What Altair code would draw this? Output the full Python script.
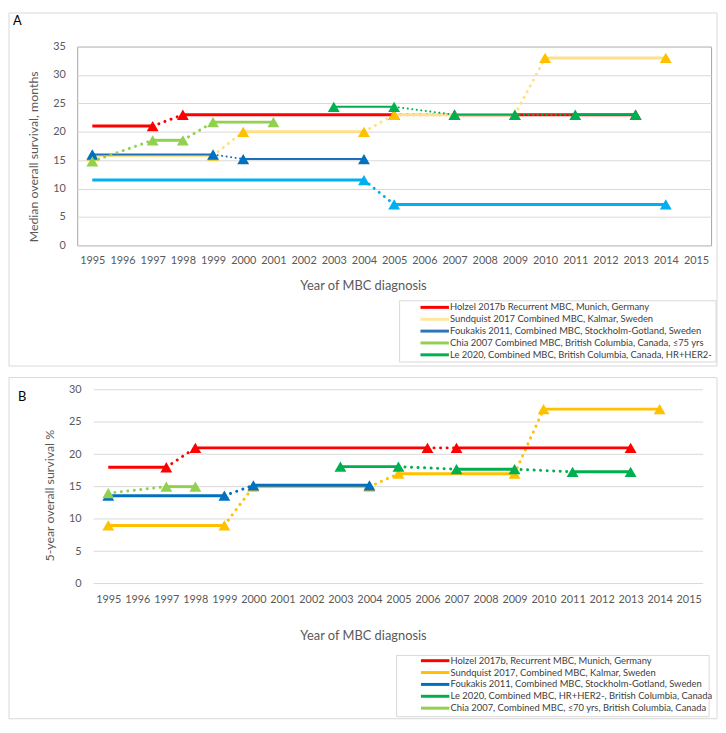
import altair as alt
import pandas as pd

FONT = "Lato"
YEARS = list(range(1995, 2016))

# ---------------- Panel A : median overall survival (months) ----------------
A_LABELS = [
    "Holzel 2017b Recurrent MBC, Munich, Germany",
    "Sundquist 2017 Combined MBC, Kalmar, Sweden",
    "Foukakis 2011, Combined MBC, Stockholm-Gotland, Sweden",
    "Chia 2007 Combined MBC, British Columbia, Canada,  \u226475 yrs",
    "Le 2020, Combined MBC, British Columbia, Canada, HR+HER2-",
]
A_COLORS = ["#FF0000", "#FFE699", "#2E75B6", "#92D050", "#00B050"]

A_HOLZEL_YEARS = [1995, 1997, 1998, 2005, 2007, 2013]
A_HOLZEL_VALUES = [21, 21, 23, 23, 23, 23]
A_HOLZEL_LINKS = ["solid", "dot", "solid", "dot", "solid"]
A_HOLZEL_MARKERS = [0, 1, 1, 1, 1, 1]

A_SUNDQ_YEARS = [1995, 1999, 2000, 2004, 2005, 2009, 2010, 2014]
A_SUNDQ_VALUES = [15.8, 15.8, 20, 20, 23, 23, 33, 33]
A_SUNDQ_LINKS = ["solid", "dot", "solid", "dot", "solid", "dot", "solid"]
A_SUNDQ_MARKERS = [1, 1, 1, 1, 1, 1, 1, 1]

A_FOUK_YEARS = [1995, 1999, 2000, 2004]
A_FOUK_VALUES = [16, 16, 15.2, 15.2]
A_FOUK_LINKS = ["solid", "dot", "solid"]
A_FOUK_MARKERS = [1, 1, 1, 1]

A_FOUK2_YEARS = [1995, 2004, 2005, 2014]
A_FOUK2_VALUES = [11.5, 11.5, 7.2, 7.2]
A_FOUK2_LINKS = ["solid", "dot", "solid"]
A_FOUK2_MARKERS = [0, 1, 1, 1]

A_CHIA_YEARS = [1995, 1997, 1998, 1999, 2001]
A_CHIA_VALUES = [14.8, 18.5, 18.5, 21.7, 21.7]
A_CHIA_LINKS = ["dot", "solid", "dot", "solid"]
A_CHIA_MARKERS = [1, 1, 1, 1, 1]

A_LE_YEARS = [2003, 2005, 2007, 2009, 2011, 2013]
A_LE_VALUES = [24.4, 24.4, 23, 23, 23, 23]
A_LE_LINKS = ["solid", "dot", "solid", "dot", "solid"]
A_LE_MARKERS = [1, 1, 1, 1, 1, 1]

# ---------------- Panel B : 5-year overall survival % ----------------
B_LABELS = [
    "Holzel 2017b, Recurrent MBC, Munich, Germany",
    "Sundquist 2017, Combined MBC,  Kalmar, Sweden",
    "Foukakis 2011, Combined MBC, Stockholm-Gotland, Sweden",
    "Le 2020, Combined MBC, HR+HER2-, British Columbia, Canada",
    "Chia 2007, Combined MBC, \u226470 yrs, British Columbia, Canada",
]
B_COLORS = ["#FF0000", "#FFC000", "#0070C0", "#00B050", "#92D050"]

B_HOLZEL_YEARS = [1995, 1997, 1998, 2006, 2007, 2013]
B_HOLZEL_VALUES = [18, 18, 21, 21, 21, 21]
B_HOLZEL_LINKS = ["solid", "dot", "solid", "dot", "solid"]
B_HOLZEL_MARKERS = [0, 1, 1, 1, 1, 1]

B_SUNDQ_YEARS = [1995, 1999, 2000, 2004, 2005, 2009, 2010, 2014]
B_SUNDQ_VALUES = [9, 9, 15, 15, 17, 17, 27, 27]
B_SUNDQ_LINKS = ["solid", "dot", "solid", "dot", "solid", "dot", "solid"]
B_SUNDQ_MARKERS = [1, 1, 1, 1, 1, 1, 1, 1]

B_FOUK_YEARS = [1995, 1999, 2000, 2004]
B_FOUK_VALUES = [13.6, 13.6, 15.2, 15.2]
B_FOUK_LINKS = ["solid", "dot", "solid"]
B_FOUK_MARKERS = [1, 1, 1, 1]

B_LE_YEARS = [2003, 2005, 2007, 2009, 2011, 2013]
B_LE_VALUES = [18.1, 18.1, 17.7, 17.7, 17.3, 17.3]
B_LE_LINKS = ["solid", "dot", "solid", "dot", "solid"]
B_LE_MARKERS = [1, 1, 1, 1, 1, 1]

B_CHIA_YEARS = [1995, 1997, 1998]
B_CHIA_VALUES = [14, 15, 15]
B_CHIA_LINKS = ["dot", "solid"]
B_CHIA_MARKERS = [1, 1, 1]

GRID_B = [0, 5, 10, 15, 20, 25, 30]
GRID_B_FROM = 1994.5
GRID_B_TO = 2015.5

TEXT = "#595959"
ONE = alt.Data(values=[{"k": 0}])


def series_layers(label, years, values, links, markers, line_color, marker_color,
                  width, xenc, yenc, color_enc=None):
    segs = []
    for i, link in enumerate(links):
        for j in (i, i + 1):
            segs.append({"study": label, "seg": i, "link": link,
                         "year": years[j], "value": values[j]})
    df = pd.DataFrame(segs)
    pts = pd.DataFrame({"year": [y for y, m in zip(years, markers) if m],
                        "value": [v for v, m in zip(values, markers) if m]})
    layers = []
    solid = df[df["link"] == "solid"]
    if len(solid):
        enc = dict(x=xenc, y=yenc, detail="seg:N")
        enc["color"] = color_enc if color_enc is not None else alt.value(line_color)
        layers.append(alt.Chart(solid).mark_line(strokeWidth=width).encode(**enc))
    dot = df[df["link"] == "dot"]
    if len(dot):
        gap = 6.5 if width >= 2.5 else 4.5
        layers.append(
            alt.Chart(dot).mark_line(strokeWidth=width, strokeDash=[0.1, gap],
                                     strokeCap="round")
            .encode(x=xenc, y=yenc, detail="seg:N", color=alt.value(line_color)))
    layers.append(
        alt.Chart(pts).mark_point(shape="triangle-up", filled=True, size=144,
                                  opacity=1)
        .encode(x=xenc, y=yenc, color=alt.value(marker_color)))
    return layers


def rect(x, x2, y, y2, stroke):
    return alt.Chart(ONE).mark_rect(fill="white", fillOpacity=0, stroke=stroke,
                                    strokeWidth=1).encode(
        x=alt.value(x), x2=alt.value(x2), y=alt.value(y), y2=alt.value(y2))


def letter(t, x, y):
    return alt.Chart(ONE).mark_text(text=t, font=FONT, fontSize=13, color="black",
                                    align="left", baseline="middle").encode(
        x=alt.value(x), y=alt.value(y))


def legend(x, y):
    return alt.Legend(title=None, orient="none", legendX=x, legendY=y,
                      symbolType="M-3.6,0H3.6", symbolSize=64, symbolStrokeWidth=3,
                      labelFont=FONT, labelFontSize=9.5, labelColor="#404040",
                      labelOffset=10, rowPadding=-1, padding=0, labelLimit=500)


def x_axis(label_pad, title_y):
    return alt.Axis(values=YEARS, format="d", grid=False, ticks=False, domain=False,
                    labelPadding=label_pad, labelFont=FONT, labelFontSize=11,
                    labelColor=TEXT, labelFlush=False, labelOverlap=False,
                    title="Year of MBC diagnosis", titleFont=FONT,
                    titleFontSize=13, titleFontWeight="normal", titleColor=TEXT,
                    titleX=289, titleY=title_y, titleAlign="center",
                    titleBaseline="middle")


# ---------------- Panel A chart ----------------
xA = alt.X("year:Q",
           scale=alt.Scale(domain=[1994.5, 2015.5], nice=False, zero=False),
           axis=x_axis(9, 41))
yA = alt.Y("value:Q", scale=alt.Scale(domain=[0, 35], nice=False),
           axis=alt.Axis(values=[0, 5, 10, 15, 20, 25, 30, 35], grid=True,
                         gridColor="#d9d9d9", ticks=False, domain=False,
                         labelPadding=12, labelFont=FONT, labelFontSize=11,
                         labelColor=TEXT,
                         title="Median overall survival, months", titleFont=FONT,
                         titleFontSize=12.5, titleFontWeight="normal",
                         titleColor=TEXT, titleX=-44, titleY=111,
                         titleAlign="center", titleBaseline="middle"))
colorA = alt.Color("study:N", scale=alt.Scale(domain=A_LABELS, range=A_COLORS),
                   legend=legend(356, 258.2))

layersA = [rect(-69, 647, -34, 323, "#d9d9d9"), rect(326, 646, 257, 319, "#d9d9d9"),
           letter("A", -65, -26)]
layersA += series_layers("", A_FOUK2_YEARS, A_FOUK2_VALUES, A_FOUK2_LINKS,
                         A_FOUK2_MARKERS, "#00B0F0", "#00B0F0", 3, xA, yA)
layersA += series_layers(A_LABELS[0], A_HOLZEL_YEARS, A_HOLZEL_VALUES, A_HOLZEL_LINKS,
                         A_HOLZEL_MARKERS, "#FF0000", "#FF0000", 3, xA, yA, colorA)
layersA += series_layers(A_LABELS[1], A_SUNDQ_YEARS, A_SUNDQ_VALUES, A_SUNDQ_LINKS,
                         A_SUNDQ_MARKERS, "#FFE08A", "#FFC000", 3, xA, yA)
layersA += series_layers(A_LABELS[2], A_FOUK_YEARS, A_FOUK_VALUES, A_FOUK_LINKS,
                         A_FOUK_MARKERS, "#1F6FBF", "#0070C0", 2, xA, yA)
layersA += series_layers(A_LABELS[3], A_CHIA_YEARS, A_CHIA_VALUES, A_CHIA_LINKS,
                         A_CHIA_MARKERS, "#92D050", "#92D050", 3, xA, yA)
layersA += series_layers(A_LABELS[4], A_LE_YEARS, A_LE_VALUES, A_LE_LINKS,
                         A_LE_MARKERS, "#00B050", "#00B050", 2, xA, yA)

chartA = alt.layer(*layersA).properties(
    width=641, height=201, view=alt.ViewBackground(stroke="#a6a6a6", strokeWidth=1))

# ---------------- Panel B chart ----------------
xB = alt.X("year:Q",
           scale=alt.Scale(domain=[1993.93, 2015.5], nice=False, zero=False),
           axis=x_axis(10, 52.7))
yB = alt.Y("value:Q", scale=alt.Scale(domain=[0, 30], nice=False),
           axis=alt.Axis(values=GRID_B, grid=False, ticks=False, domain=False,
                         offset=-16, labelPadding=12, labelFont=FONT, labelFontSize=11,
                         labelColor=TEXT,
                         title="5-year overall survival %", titleFont=FONT,
                         titleFontSize=12.5, titleFontWeight="normal",
                         titleColor=TEXT, titleX=-44, titleY=106.7,
                         titleAlign="center", titleBaseline="middle"))
colorB = alt.Color("study:N", scale=alt.Scale(domain=B_LABELS, range=B_COLORS),
                   legend=legend(356.5, 268.5))

grid_df = pd.DataFrame({"value": GRID_B,
                        "year": [GRID_B_FROM] * len(GRID_B),
                        "year_end": [GRID_B_TO] * len(GRID_B)})
gridB = alt.Chart(grid_df).mark_rule(color="#d9d9d9", strokeWidth=1).encode(
    y=yB, x=xB, x2=alt.X2("year_end"))

layersB = [rect(-69, 647, -12.3, 332.7, "#d9d9d9"), gridB,
           rect(323, 639, 268.7, 330.7, "#d9d9d9"), letter("B", -60, 7)]
layersB += series_layers(B_LABELS[1], B_SUNDQ_YEARS, B_SUNDQ_VALUES, B_SUNDQ_LINKS,
                         B_SUNDQ_MARKERS, "#FFC000", "#FFC000", 3, xB, yB)
layersB += series_layers(B_LABELS[0], B_HOLZEL_YEARS, B_HOLZEL_VALUES, B_HOLZEL_LINKS,
                         B_HOLZEL_MARKERS, "#FF0000", "#FF0000", 3, xB, yB, colorB)
layersB += series_layers(B_LABELS[2], B_FOUK_YEARS, B_FOUK_VALUES, B_FOUK_LINKS,
                         B_FOUK_MARKERS, "#0070C0", "#0070C0", 3, xB, yB)
layersB += series_layers(B_LABELS[3], B_LE_YEARS, B_LE_VALUES, B_LE_LINKS,
                         B_LE_MARKERS, "#00B050", "#00B050", 3, xB, yB)
layersB += series_layers(B_LABELS[4], B_CHIA_YEARS, B_CHIA_VALUES, B_CHIA_LINKS,
                         B_CHIA_MARKERS, "#92D050", "#92D050", 3, xB, yB)

chartB = alt.layer(*layersB).properties(width=633, height=196)

chart = (
    alt.vconcat(chartA, chartB, spacing=9)
    .resolve_scale(color="independent")
    .properties(padding=0, background="white")
    .configure_view(stroke="transparent")
)

chart.save("out.html", embed_options={"renderer": "svg", "actions": False})
